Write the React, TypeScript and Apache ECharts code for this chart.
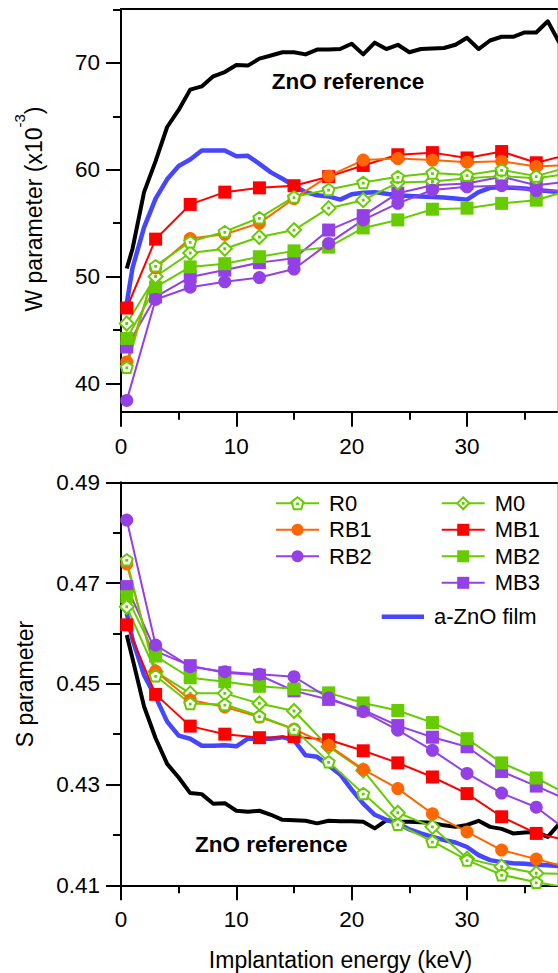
import React, { useEffect, useRef } from 'react';
import * as echarts from 'echarts';

// ---------- data ----------
const energyMarked = [0.5, 3, 6, 9, 12, 15, 18, 21, 24, 27, 30, 33, 36, 38];
const energyFine = [0.5, 1, 2, 3, 4, 5, 6, 7, 8, 9, 10, 11, 12, 13, 14, 15, 16, 17, 18, 19, 20, 21, 22, 23, 24, 25, 26, 27, 28, 29, 30, 31, 32, 33, 34, 35, 36, 37, 38];

// W parameter (x10^-3)
const wR0 = [41.5, 51.0, 53.25, 54.2, 55.5, 57.45, 58.15, 58.8, 59.35, 59.7, 59.5, 60.0, 59.4, 60.0];
const wRB1 = [42.0, 50.8, 53.55, 53.95, 55.0, 57.3, 59.4, 60.9, 61.05, 60.9, 60.7, 60.8, 60.3, 60.4];
const wRB2 = [38.4, 47.85, 49.0, 49.5, 49.9, 50.7, 53.1, 55.3, 56.85, 58.1, 58.4, 58.5, 58.05, 58.0];
const wM0 = [45.6, 50.0, 52.2, 52.6, 53.7, 54.35, 56.4, 57.15, 58.8, 58.9, 59.2, 59.4, 59.2, 59.5];
const wMB1 = [47.05, 53.5, 56.75, 57.9, 58.3, 58.5, 59.35, 60.4, 61.4, 61.6, 61.1, 61.7, 60.65, 61.2];
const wMB2 = [44.2, 49.0, 50.9, 51.2, 51.85, 52.4, 52.75, 54.55, 55.3, 56.3, 56.4, 56.85, 57.15, 57.8];
const wMB3 = [43.4, 48.1, 49.95, 50.6, 51.3, 51.7, 54.35, 55.7, 57.8, 58.55, 58.7, 59.35, 58.55, 58.8];
const wRef = [50.75, 52.6, 57.9, 60.8, 64.0, 65.6, 67.5, 67.8, 68.75, 69.15, 69.8, 69.75, 70.4, 70.7, 71.0, 71.0, 70.8, 71.25, 71.25, 71.3, 71.8, 70.8, 71.9, 71.3, 71.7, 71.0, 71.3, 71.35, 71.4, 71.7, 72.35, 71.3, 72.1, 72.45, 72.45, 72.85, 72.85, 73.9, 71.9];
const wFilm = [47.5, 50.8, 54.6, 57.3, 59.1, 60.35, 60.95, 61.8, 61.8, 61.8, 61.25, 61.3, 60.55, 59.75, 59.15, 58.5, 57.9, 57.6, 57.5, 57.2, 57.7, 57.85, 57.9, 57.75, 57.6, 57.55, 57.5, 57.45, 57.4, 57.3, 57.2, 57.9, 58.3, 58.35, 58.3, 58.25, 58.1, 58.0, 57.9];

// S parameter
const sR0 = [0.4746, 0.4516, 0.4461, 0.4459, 0.4436, 0.441, 0.4345, 0.4282, 0.4221, 0.4187, 0.415, 0.4121, 0.4106, 0.4098];
const sRB1 = [0.4738, 0.4525, 0.4468, 0.4454, 0.4434, 0.441, 0.4378, 0.433, 0.4292, 0.4242, 0.4206, 0.417, 0.4152, 0.414];
const sRB2 = [0.4825, 0.4577, 0.4534, 0.4524, 0.4519, 0.4514, 0.4472, 0.4445, 0.4408, 0.4368, 0.4322, 0.4283, 0.4255, 0.422];
const sM0 = [0.4653, 0.4524, 0.4481, 0.4481, 0.4461, 0.4446, 0.4375, 0.4328, 0.4244, 0.4216, 0.4153, 0.4137, 0.4124, 0.4123];
const sMB1 = [0.4617, 0.4479, 0.4416, 0.44, 0.4393, 0.4395, 0.4389, 0.4367, 0.4343, 0.4315, 0.4282, 0.4236, 0.4203, 0.4193];
const sMB2 = [0.4673, 0.4555, 0.4512, 0.4504, 0.4495, 0.449, 0.4482, 0.4462, 0.4447, 0.4423, 0.4391, 0.4343, 0.4313, 0.4289];
const sMB3 = [0.4693, 0.4565, 0.4536, 0.4522, 0.4517, 0.4486, 0.4469, 0.4448, 0.4417, 0.4394, 0.4375, 0.4326, 0.4297, 0.4277];
const sRef = [0.4597, 0.455, 0.4455, 0.4392, 0.4341, 0.4314, 0.4283, 0.4281, 0.4262, 0.4263, 0.4248, 0.4246, 0.4248, 0.424, 0.423, 0.4229, 0.4228, 0.4223, 0.4228, 0.4227, 0.4227, 0.4226, 0.4213, 0.4229, 0.4226, 0.4226, 0.4225, 0.4224, 0.4219, 0.4216, 0.422, 0.4228, 0.4216, 0.4212, 0.4203, 0.4205, 0.4206, 0.4196, 0.4222];
const sFilm = [0.464, 0.4588, 0.4517, 0.4474, 0.4425, 0.4397, 0.4391, 0.4377, 0.4377, 0.4378, 0.4376, 0.4391, 0.4391, 0.4391, 0.4394, 0.4388, 0.4358, 0.4355, 0.4338, 0.432, 0.429, 0.4262, 0.424, 0.423, 0.4223, 0.4211, 0.4203, 0.4196, 0.419, 0.4185, 0.4176, 0.416, 0.415, 0.4146, 0.4144, 0.4143, 0.4141, 0.414, 0.4138];

// axes
const xRange = [0, 37.8];
const wRange = [37.34, 75.05];
const sRange = [0.41, 0.49];
const xTicks = [0, 10, 20, 30];
const xMinorTicks = [5, 15, 25, 35];
const wTicks = [40, 50, 60, 70];
const wMinorTicks = [45, 55, 65, 75];
const sTicks = [0.41, 0.43, 0.45, 0.47, 0.49];
const sMinorTicks = [0.42, 0.44, 0.46, 0.48];

const legendLeft = ['R0', 'RB1', 'RB2'];
const legendRight = ['M0', 'MB1', 'MB2', 'MB3'];
const FILM = 'a-ZnO film';
const REF = 'ZnO reference';

// ---------- styles ----------
const FONT = '"Liberation Sans", Arial, Helvetica, sans-serif';
const GREEN = '#66cc00';
const RED = '#ff0000';
const ORANGE = '#ff6600';
const PURPLE = '#9340e6';
const BLUE = '#4646ff';
const BLACK = '#000000';
const PENT = 'path://M0,-10L9.51,-3.09L5.88,8.09L-5.88,8.09L-9.51,-3.09Z M-0.6,-0.6L0.6,-0.6L0.6,0.6L-0.6,0.6Z';
const DIAM = 'path://M0,-10L10,0L0,10L-10,0Z M-0.6,-0.6L0.6,-0.6L0.6,0.6L-0.6,0.6Z';

const pairs = (xs: number[], ys: number[]) => xs.map((x, i) => [x, ys[i]]);

function marked(name: string, color: string, symbol: string, size: number, hollow: boolean, xi: number, yi: number, ys: number[]) {
  return {
    type: 'line',
    name,
    xAxisIndex: xi,
    yAxisIndex: yi,
    data: pairs(energyMarked, ys),
    symbol,
    symbolSize: size,
    symbolKeepAspect: true,
    showSymbol: true,
    clip: true,
    color,
    lineStyle: { color, width: 2 },
    itemStyle: hollow ? { color: '#ffffff', borderColor: color, borderWidth: 2 } : { color, borderWidth: 0 },
    emphasis: { disabled: true },
  };
}

function plain(name: string, color: string, width: number, xi: number, yi: number, ys: number[]) {
  return {
    type: 'line',
    name,
    xAxisIndex: xi,
    yAxisIndex: yi,
    data: pairs(energyFine, ys),
    symbol: 'none',
    showSymbol: false,
    clip: true,
    color,
    lineStyle: { color, width, join: 'round' },
    itemStyle: { color },
    emphasis: { disabled: true },
  };
}

function panelSeries(xi: number, yi: number, vals: any) {
  return [
    plain(REF, BLACK, 4, xi, yi, vals.ref),
    plain(FILM, BLUE, 4.5, xi, yi, vals.film),
    marked('MB3', PURPLE, 'rect', 13, false, xi, yi, vals.mb3),
    marked('MB2', GREEN, 'rect', 13, false, xi, yi, vals.mb2),
    marked('MB1', RED, 'rect', 13, false, xi, yi, vals.mb1),
    marked('M0', GREEN, DIAM, 14, true, xi, yi, vals.m0),
    marked('RB2', PURPLE, 'circle', 13, false, xi, yi, vals.rb2),
    marked('RB1', ORANGE, 'circle', 13, false, xi, yi, vals.rb1),
    marked('R0', GREEN, PENT, 12, true, xi, yi, vals.r0),
  ];
}

const tickLine = { color: '#000', width: 2 };
const labelStyle = { fontFamily: FONT, fontSize: 22.5, color: '#000' };

function xAxesFor(gridIndex: number) {
  return [
    {
      type: 'value', gridIndex, min: xRange[0], max: xRange[1], position: 'bottom',
      axisLine: { onZero: false, lineStyle: tickLine },
      axisTick: { customValues: xTicks, length: 15, lineStyle: tickLine },
      axisLabel: { customValues: xTicks, margin: 23, ...labelStyle },
      splitLine: { show: false },
    },
    {
      type: 'value', gridIndex, min: xRange[0], max: xRange[1], position: 'bottom',
      axisLine: { show: false, onZero: false },
      axisTick: { customValues: xMinorTicks, length: 8, lineStyle: tickLine },
      axisLabel: { show: false },
      splitLine: { show: false },
    },
    {
      type: 'value', gridIndex, min: xRange[0], max: xRange[1], position: 'top',
      axisLine: { onZero: false, lineStyle: tickLine },
      axisTick: { show: false },
      axisLabel: { show: false },
      splitLine: { show: false },
    },
  ];
}

function yAxesFor(gridIndex: number, range: number[], ticks: number[], minor: number[], fmt: (v: number) => string) {
  return [
    {
      type: 'value', gridIndex, min: range[0], max: range[1], position: 'left',
      axisLine: { onZero: false, lineStyle: tickLine },
      axisTick: { customValues: ticks, length: 15, lineStyle: tickLine },
      axisLabel: { customValues: ticks, margin: 21, formatter: fmt, ...labelStyle },
      splitLine: { show: false },
    },
    {
      type: 'value', gridIndex, min: range[0], max: range[1], position: 'left',
      axisLine: { show: false, onZero: false },
      axisTick: { customValues: minor, length: 8, lineStyle: tickLine },
      axisLabel: { show: false },
      splitLine: { show: false },
    },
    {
      type: 'value', gridIndex, min: range[0], max: range[1], position: 'right',
      axisLine: { onZero: false, lineStyle: { color: '#c4c4c4', width: 1 } },
      axisTick: { show: false },
      axisLabel: { show: false },
      splitLine: { show: false },
    },
  ];
}

const legendText = { fontFamily: FONT, fontSize: 22, color: '#000', padding: [0, 0, 0, 5] };

export default function App() {
  const ref = useRef<HTMLDivElement>(null);
  useEffect(() => {
    if (!ref.current) return;
    const chart = echarts.init(ref.current, null, { renderer: 'svg' });
    const option: any = {
      animation: false,
      backgroundColor: '#ffffff',
      textStyle: { fontFamily: FONT },
      grid: [
        { left: 121, top: 9, width: 436, height: 402.7, outerBoundsMode: 'none', containLabel: false },
        { left: 121, top: 482.3, width: 436, height: 403, outerBoundsMode: 'none', containLabel: false },
      ],
      xAxis: [...xAxesFor(0), ...xAxesFor(1)],
      yAxis: [
        ...yAxesFor(0, wRange, wTicks, wMinorTicks, (v: number) => String(v)),
        ...yAxesFor(1, sRange, sTicks, sMinorTicks, (v: number) => v.toFixed(2)),
      ],
      legend: [
        {
          data: legendLeft, orient: 'vertical', left: 275, top: 492.3, padding: 0,
          itemWidth: 43, itemHeight: 15, itemGap: 4.5, selectedMode: false, textStyle: legendText,
        },
        {
          data: legendRight, orient: 'vertical', left: 440.7, top: 492.3, padding: 0,
          itemWidth: 43, itemHeight: 15, itemGap: 4.5, selectedMode: false, textStyle: legendText,
        },
        {
          data: [{ name: FILM, icon: 'rect' }], orient: 'vertical', left: 381.7, top: 605.7, padding: 0,
          itemWidth: 42.3, itemHeight: 4.5, selectedMode: false, textStyle: legendText,
        },
      ],
      series: [
        ...panelSeries(0, 0, { ref: wRef, film: wFilm, r0: wR0, rb1: wRB1, rb2: wRB2, m0: wM0, mb1: wMB1, mb2: wMB2, mb3: wMB3 }),
        ...panelSeries(3, 3, { ref: sRef, film: sFilm, r0: sR0, rb1: sRB1, rb2: sRB2, m0: sM0, mb1: sMB1, mb2: sMB2, mb3: sMB3 }),
      ],
      graphic: [
        {
          type: 'text', x: 271.7, y: 81.2, z: 100,
          style: { text: REF, fontFamily: FONT, fontSize: 22.5, fontWeight: 'bold', fill: '#000', align: 'left', verticalAlign: 'middle' },
        },
        {
          type: 'text', x: 195, y: 844.2, z: 100,
          style: { text: REF, fontFamily: FONT, fontSize: 22.5, fontWeight: 'bold', fill: '#000', align: 'left', verticalAlign: 'middle' },
        },
        {
          type: 'text', x: 340.5, y: 960, z: 100,
          style: { text: 'Implantation energy (keV)', fontFamily: FONT, fontSize: 23, fill: '#000', align: 'center', verticalAlign: 'middle' },
        },
        {
          type: 'text', x: 25, y: 684, rotation: Math.PI / 2, z: 100,
          style: { text: 'S parameter', fontFamily: FONT, fontSize: 23, fill: '#000', align: 'center', verticalAlign: 'middle' },
        },
        {
          type: 'text', x: 34, y: 209, rotation: Math.PI / 2, z: 100,
          style: {
            text: 'W parameter (x10{sup|-3})', fontFamily: FONT, fontSize: 23, lineHeight: 44, fill: '#000', align: 'center', verticalAlign: 'middle',
            rich: { sup: { fontFamily: FONT, fontSize: 15, lineHeight: 15, fill: '#000', verticalAlign: 'top' } },
          },
        },
      ],
    };
    chart.setOption(option);
    return () => chart.dispose();
  }, []);
  return (
    <div
      ref={ref}
      style={{ position: 'fixed', left: 0, top: 0, width: 558, height: 973, background: '#fff' }}
    />
  );
}
